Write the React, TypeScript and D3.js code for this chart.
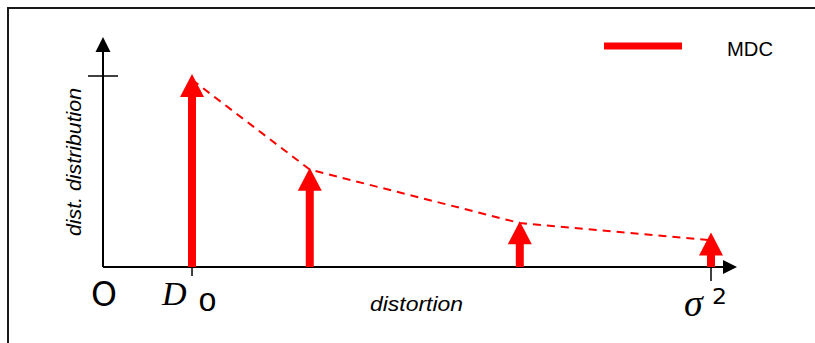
import React from 'react';
import * as d3 from 'd3';

// values (x: sigma^2 = 1, y: top tick = 1)
const distortion = [0.145, 0.339, 0.685, 1.0];
const mdcValues = [1.01, 0.52, 0.24, 0.18];
const envelope = [0.98, 0.51, 0.23, 0.14];
const xTickValues = [0.145, 1.0];
const yTickValues = [1];

const W = 815;
const H = 343;

function Arrow({x0, y0, y1}: {x0: number; y0: number; y1: number}) {
    const headLen = 23;
    const headHalf = 12;
    const headBase = y1 + headLen;
    return (
        <g>
            <line x1={x0} x2={x0} y1={y0} y2={headBase - 1}
                  stroke="#ff0000" strokeWidth={8}/>
            <path d={`M${x0},${y1} L${x0 + headHalf},${headBase} L${x0 - headHalf},${headBase} Z`}
                  fill="#ff0000"/>
        </g>
    );
}

export default function App() {
    const x = d3.scaleLinear().domain([0, 1]).range([104, 711]);
    const y = d3.scaleLinear().domain([0, 1]).range([267, 76]);

    const pts = distortion.map((d, i) => ({d, v: envelope[i]}));
    const dLine = d3.line<{d: number; v: number}>()
        .x(p => x(p.d))
        .y(p => y(p.v));

    const x0 = x(0);
    const y0 = y(0);
    const xEnd = 737;
    const yEnd = 37;

    return (
        <svg width={W} height={H} viewBox={`0 0 ${W} ${H}`}
             style={{position: 'absolute', left: 0, top: 0, display: 'block'}}>
            <rect x={0} y={0} width={W} height={H} fill="#fff"/>
            {/* frame: only left and top edges are in view */}
            <path d={`M8,${H} L8,8 L${W},8`} fill="none" stroke="#1a1a1a" strokeWidth={2}/>

            {/* y axis */}
            <line x1={x0 - 1} x2={x0 - 1} y1={y0} y2={yEnd + 14} stroke="#000" strokeWidth={2}/>
            <path d={`M${x0 - 1},${yEnd} L${x0 + 6.5},${yEnd + 15} L${x0 - 8.5},${yEnd + 15} Z`} fill="#000"/>
            {yTickValues.map(t => (
                <line key={t} x1={x0 - 16} x2={x0 + 14} y1={y(t)} y2={y(t)}
                      stroke="#000" strokeWidth={1.5}/>
            ))}

            {/* x axis */}
            <line x1={x0 - 1} x2={xEnd - 13} y1={y0} y2={y0} stroke="#000" strokeWidth={2}/>
            <path d={`M${xEnd},${y0} L${xEnd - 14},${y0 - 7} L${xEnd - 14},${y0 + 7} Z`} fill="#000"/>
            <line x1={x(xTickValues[0])} x2={x(xTickValues[0])} y1={y0} y2={y0 + 9}
                  stroke="#000" strokeWidth={1.5}/>
            <line x1={x(xTickValues[1])} x2={x(xTickValues[1])} y1={y0 - 5} y2={y0 + 14}
                  stroke="#000" strokeWidth={1.5}/>

            {/* arrows */}
            {distortion.map((d, i) => (
                <Arrow key={i} x0={x(d)} y0={y0} y1={y(mdcValues[i])}/>
            ))}

            {/* dashed envelope */}
            <path d={dLine(pts) || ''} fill="none" stroke="#ff0000" strokeWidth={2}
                  strokeDasharray="8,6"/>

            {/* labels */}
            <text x={x0} y={306} textAnchor="middle" fontFamily="DejaVu Sans"
                  fontSize={33} fill="#000">O</text>
            <text x={162} y={305} fontFamily="Liberation Serif" fontStyle="italic"
                  fontSize={34} fill="#000">D</text>
            <text x={198} y={311} fontFamily="DejaVu Sans" fontSize={24}
                  textLength={19} lengthAdjust="spacingAndGlyphs" fill="#000">0</text>
            <text x={684} y={316} fontFamily="Liberation Serif" fontStyle="italic"
                  fontSize={38} fill="#000">σ</text>
            <text x={712} y={304} fontFamily="DejaVu Sans" fontSize={21}
                  textLength={15} lengthAdjust="spacingAndGlyphs" fill="#000">2</text>

            <text x={370} y={311} fontFamily="Liberation Sans" fontStyle="italic"
                  fontSize={21} textLength={93} lengthAdjust="spacingAndGlyphs"
                  fill="#000">distortion</text>
            <text transform="translate(81,162) rotate(-90)" textAnchor="middle"
                  fontFamily="Liberation Sans" fontStyle="italic" fontSize={21}
                  textLength={148} lengthAdjust="spacingAndGlyphs"
                  fill="#000">dist. distribution</text>

            {/* legend */}
            <line x1={604} x2={682} y1={46} y2={46} stroke="#ff0000" strokeWidth={7}/>
            <text x={727} y={56} fontFamily="Liberation Sans" fontSize={21}
                  textLength={46} lengthAdjust="spacingAndGlyphs" fill="#000">MDC</text>
        </svg>
    );
}
